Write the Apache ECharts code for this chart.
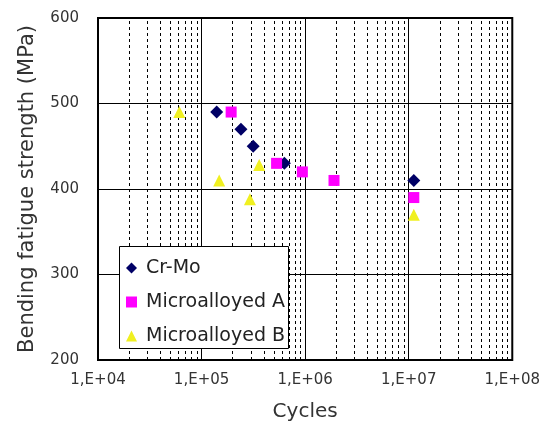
<!DOCTYPE html>
<html><head><meta charset="utf-8">
<script src="https://cdn.jsdelivr.net/npm/echarts@6/dist/echarts.min.js"></script>
<style>html,body{margin:0;padding:0;background:#fff}#c{width:543px;height:435px}</style>
</head><body><div id="c"></div>
<script>
// Data (cycles, bending fatigue strength MPa)
const crMo = [[1.40e5, 490], [2.40e5, 470], [3.15e5, 450], [6.3e5, 430], [1.12e7, 410]];
const microA = [[1.93e5, 490], [5.3e5, 430], [9.4e5, 420], [1.9e6, 410], [1.12e7, 390]];
const microB = [[6.1e4, 490], [1.48e5, 410], [3.6e5, 428], [2.93e5, 388], [1.12e7, 370]];
const seriesNames = ['Cr-Mo', 'Microalloyed A', 'Microalloyed B'];
const xDecades = [1e4, 1e5, 1e6, 1e7, 1e8];
const yTicks = [200, 300, 400, 500, 600];

const minorX = [];
for (let d = 0; d < xDecades.length - 1; d++) {
  for (let m = 2; m <= 9; m++) minorX.push({xAxis: xDecades[d] * m});
}
const FONT = 'DejaVu Sans';
const chart = echarts.init(document.getElementById('c'));
chart.setOption({
  animation: false,
  backgroundColor: '#fff',
  textStyle: {fontFamily: FONT},
  grid: {left: 98, right: 28, top: 18, bottom: 75, show: true, borderColor: '#000', borderWidth: 2, backgroundColor: 'transparent'},
  graphic: [{type: 'rect', z: 50, silent: true,
    shape: {x: 119.5, y: 246.5, width: 169, height: 102},
    style: {fill: '#fff', stroke: '#000', lineWidth: 1}}],
  legend: {
    z: 60,
    orient: 'vertical', left: 119, top: 246,
    padding: [12, 8, 6, 7], itemGap: 14, itemWidth: 11, itemHeight: 11,
    textStyle: {fontFamily: FONT, fontSize: 19, color: '#222', lineHeight: 20, padding: [0, 0, 0, 4]},
    data: seriesNames
  },
  xAxis: {
    type: 'log', logBase: 10, min: xDecades[0], max: xDecades[xDecades.length - 1], splitNumber: 4,
    name: 'Cycles', nameLocation: 'middle', nameGap: 42,
    nameTextStyle: {fontFamily: FONT, fontSize: 20, color: '#333'},
    axisLine: {show: false}, axisTick: {show: false},
    axisLabel: {fontFamily: FONT, fontSize: 15, color: '#333', margin: 13,
      formatter: v => '1,E+' + String(Math.round(Math.log10(v))).padStart(2, '0')},
    splitLine: {show: true, lineStyle: {color: '#000', width: 1}}
  },
  yAxis: {
    type: 'value', min: yTicks[0], max: yTicks[yTicks.length - 1], interval: 100,
    name: 'Bending fatigue strength (MPa)', nameLocation: 'middle', nameGap: 60, nameRotate: 90,
    nameTextStyle: {fontFamily: FONT, fontSize: 21, color: '#333'},
    axisLine: {show: false}, axisTick: {show: false},
    axisLabel: {fontFamily: FONT, fontSize: 15, color: '#333', margin: 19},
    splitLine: {show: true, lineStyle: {color: '#000', width: 1}}
  },
  series: [
    {type: 'scatter', name: '_minor', data: [], silent: true, z: 1,
      markLine: {silent: true, symbol: ['none', 'none'], label: {show: false},
        lineStyle: {color: '#000', width: 1, type: [3, 3]}, data: minorX}},
    {type: 'scatter', name: seriesNames[0], data: crMo, symbol: 'diamond', symbolSize: 13,
      itemStyle: {color: '#000066', opacity: 1}, z: 5},
    {type: 'scatter', name: seriesNames[1], data: microA, symbol: 'rect', symbolSize: 11,
      itemStyle: {color: '#ff00ff', opacity: 1}, z: 5},
    {type: 'scatter', name: seriesNames[2], data: microB, symbol: 'triangle', symbolSize: 12,
      itemStyle: {color: '#f0f020', opacity: 1}, z: 5}
  ]
});
</script></body></html>
